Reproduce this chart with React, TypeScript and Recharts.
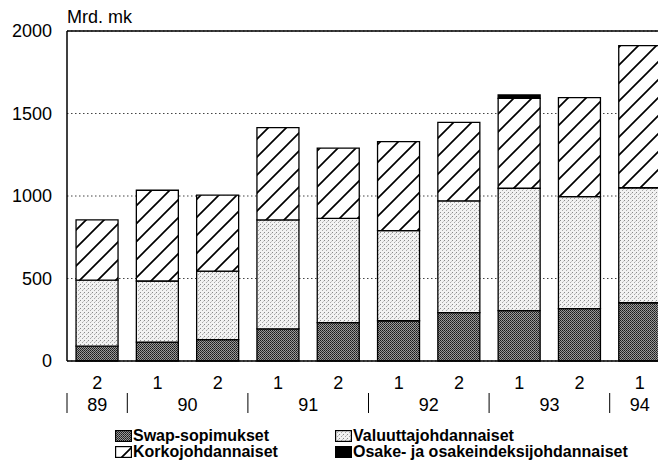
import { BarChart, Bar, XAxis, YAxis, CartesianGrid, ReferenceLine } from "recharts";

const halves = ["2", "1", "2", "1", "2", "1", "2", "1", "2", "1"];
const years = ["89", "90", "90", "91", "91", "92", "92", "93", "93", "94"];
const swap = [90, 115, 130, 195, 232, 244, 293, 305, 317, 353];
const valuutta = [400, 370, 415, 660, 633, 546, 678, 742, 679, 697];
const korko = [365, 550, 460, 560, 425, 540, 475, 545, 600, 861];
const osake = [0, 0, 0, 0, 0, 0, 0, 20, 0, 0];
const yTicks = [0, 500, 1000, 1500, 2000];

const data = halves.map((h, i) => ({
  half: h,
  year: years[i],
  swap: swap[i],
  valuutta: valuutta[i],
  korko: korko[i],
  osake: osake[i],
}));

const FONT = "Arial, 'Liberation Sans', sans-serif";
const W = 680;
const H = 473;
const X_H = 60;
const M = { top: 31, right: 10, bottom: 112 - X_H, left: 0 };
const Y_W = 67;
const BAND = (W - M.left - M.right - Y_W) / halves.length;

function Patterns({ p }: { p: string }) {
  return (
    <defs>
      <pattern id={p + "swap"} width="2" height="2" patternUnits="userSpaceOnUse">
        <rect width="2" height="2" fill="#9a9a9a" />
        <rect width="1" height="1" fill="#1a1a1a" />
        <rect x="1" y="1" width="1" height="1" fill="#333" />
      </pattern>
      <pattern id={p + "valuutta"} width="4" height="4" patternUnits="userSpaceOnUse">
        <rect width="4" height="4" fill="#f2f2f2" />
        <rect x="0" y="0" width="1" height="1" fill="#8a8a8a" />
        <rect x="2" y="2" width="1" height="1" fill="#a8a8a8" />
        <rect x="3" y="1" width="1" height="1" fill="#c8c8c8" />
      </pattern>
      <pattern id={p + "korko"} width="18" height="18" patternUnits="userSpaceOnUse">
        <rect width="18" height="18" fill="#fff" />
        <path d="M0,18 L18,0 M-4,4 L4,-4 M14,22 L22,14" stroke="#000" strokeWidth="1.7" />
      </pattern>
    </defs>
  );
}

function HalfTick(props: any) {
  const { x, y, payload, index } = props;
  const isStart = index === 0 || years[index] !== years[index - 1];
  let span = 1;
  while (index + span < years.length && years[index + span] === years[index]) span++;
  return (
    <g>
      <text x={x} y={y + 28} textAnchor="middle" fontSize={18} fontFamily={FONT} fill="#000">
        {payload.value}
      </text>
      {isStart && (
        <>
          <line x1={x - BAND / 2} x2={x - BAND / 2} y1={y + 32} y2={y + 52} stroke="#000" strokeWidth={1} />
          <text
            x={x + ((span - 1) * BAND) / 2}
            y={y + 50}
            textAnchor="middle"
            fontSize={18}
            fontFamily={FONT}
            fill="#000"
          >
            {years[index]}
          </text>
        </>
      )}
    </g>
  );
}

const legendItems = [
  { key: "swap", label: "Swap-sopimukset", left: 115, top: 428 },
  { key: "valuutta", label: "Valuuttajohdannaiset", left: 335, top: 428 },
  { key: "korko", label: "Korkojohdannaiset", left: 115, top: 444 },
  { key: "osake", label: "Osake- ja osakeindeksijohdannaiset", left: 335, top: 444 },
];

export default function App() {
  return (
    <div style={{ margin: -8, width: 666, height: H, overflow: "hidden", position: "relative", background: "#fff" }}>
      <div
        style={{
          position: "absolute",
          left: 67,
          top: 8,
          fontFamily: FONT,
          fontSize: 18,
          lineHeight: "18px",
          color: "#000",
        }}
      >
        Mrd. mk
      </div>
      <BarChart width={W} height={H} data={data} margin={M} barCategoryGap="15%">
        <Patterns p="c-" />
        <CartesianGrid vertical={false} stroke="#444" strokeDasharray="1.5 2.5" />
        <XAxis
          dataKey="half"
          interval={0}
          tickLine={false}
          tickSize={0}
          tickMargin={0}
          height={X_H}
          axisLine={{ stroke: "#000", strokeWidth: 1.5 }}
          tick={(p: any) => <HalfTick {...p} />}
        />
        <YAxis
          width={Y_W}
          domain={[0, 2000]}
          ticks={yTicks}
          interval={0}
          tickLine={false}
          tickSize={6}
          tickMargin={9}
          axisLine={{ stroke: "#000", strokeWidth: 1.5 }}
          tick={{ fontSize: 18, fontFamily: FONT, fill: "#000" }}
        />
        <ReferenceLine y={2000} stroke="#000" strokeWidth={1.5} />
        <Bar dataKey="swap" stackId="a" fill="url(#c-swap)" stroke="#000" strokeWidth={1.3} isAnimationActive={false} />
        <Bar dataKey="valuutta" stackId="a" fill="url(#c-valuutta)" stroke="#000" strokeWidth={1.3} isAnimationActive={false} />
        <Bar dataKey="korko" stackId="a" fill="url(#c-korko)" stroke="#000" strokeWidth={1.3} isAnimationActive={false} />
        <Bar dataKey="osake" stackId="a" fill="#000" stroke="#000" strokeWidth={1.3} isAnimationActive={false} />
      </BarChart>
      {legendItems.map((it) => (
        <div
          key={it.key}
          style={{
            position: "absolute",
            left: it.left,
            top: it.top,
            display: "flex",
            alignItems: "center",
            fontFamily: FONT,
            fontSize: 16,
            fontWeight: "bold",
            lineHeight: "16px",
            color: "#000",
            whiteSpace: "nowrap",
          }}
        >
          <svg width={17} height={12} style={{ marginRight: 1 }}>
            <Patterns p={"l-" + it.key + "-"} />
            <rect
              x={0.6}
              y={0.6}
              width={15.8}
              height={10.8}
              fill={it.key === "osake" ? "#000" : `url(#l-${it.key}-${it.key})`}
              stroke="#000"
              strokeWidth={1.2}
            />
          </svg>
          {it.label}
        </div>
      ))}
    </div>
  );
}
